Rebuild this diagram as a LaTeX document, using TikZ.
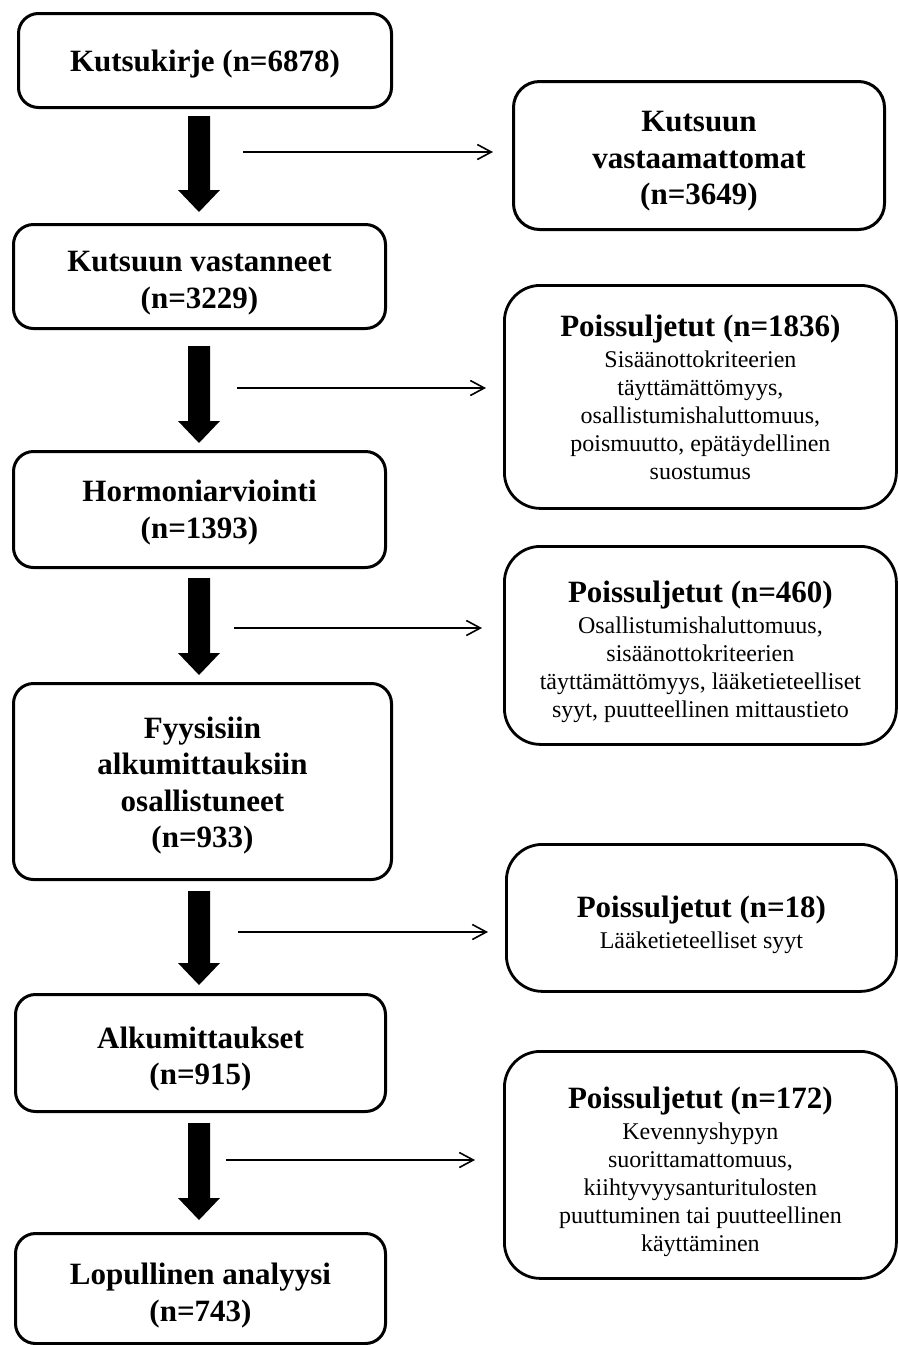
\documentclass[tikz,border=0pt]{standalone}
\usepackage{fontspec}
\setmainfont{Liberation Serif}
\usetikzlibrary{arrows.meta,calc}
\tikzset{
  leftbox/.style={draw,line width=3pt,rounded corners=20pt,anchor=north west,align=center,inner sep=0pt,
    font=\fontsize{31}{36.5}\selectfont\bfseries},
  sidebox/.style={draw,line width=2.8pt,rounded corners=36pt,anchor=north west,align=center,inner sep=0pt,
    font=\fontsize{24}{28}\selectfont},
  thinarrow/.style={line width=1.6pt,-{Straight Barb[length=14pt,width=15pt,line width=1.6pt]}},
}
% lowers the text of a box by #1 (pt)
\newcommand\dn[1]{\rule{0pt}{\dimexpr 22pt+#1pt*2\relax}}
\newcommand\hd[2]{{\fontsize{31}{34}\selectfont\bfseries\dn{#1}#2}\\[3pt]}
\newcommand\fatarrow[4]{%
  \fill let \p1=(#1.south -| ax), \p2=(#2.north -| ax) in
   (\x1-11pt,\y1-#3) -- (\x1+11pt,\y1-#3) -- (\x1+11pt,\y2+#4+22pt) -- (\x1+21pt,\y2+#4+22pt)
   -- (\x1,\y2+#4) -- (\x1-21pt,\y2+#4+22pt) -- (\x1-11pt,\y2+#4+22pt) -- cycle;}
\begin{document}
\begin{tikzpicture}[x=1pt,y=-1pt]
\useasboundingbox (0,0) rectangle (898,1345);
\coordinate (ax) at (199,0);
% left column
\node[leftbox,minimum width=373pt,minimum height=94pt] (n1) at (17,12) {\dn{3}Kutsukirje (n=6878)};
\node[leftbox,minimum width=372pt,minimum height=104pt] (n2) at (12,223) {\dn{6}Kutsuun vastanneet\\(n=3229)};
\node[leftbox,minimum width=372pt,minimum height=116pt] (n3) at (12,450) {\dn{3}Hormoniarviointi\\(n=1393)};
\node[leftbox,minimum width=378pt,minimum height=196pt] (n4) at (12,682) {\dn{4}Fyysisiin\\alkumittauksiin\\osallistuneet\\(n=933)};
\node[leftbox,minimum width=370pt,minimum height=117pt] (n5) at (14,993) {\dn{6}Alkumittaukset\\(n=915)};
\node[leftbox,minimum width=370pt,minimum height=110pt] (n6) at (14,1232) {\dn{7}Lopullinen analyysi\\(n=743)};
% right column
\node[leftbox,rounded corners=26pt,minimum width=371pt,minimum height=148pt] (r1) at (512,80) {\dn{5}Kutsuun\\vastaamattomat\\(n=3649)};
\node[sidebox,minimum width=392pt,minimum height=223pt] (r2) at (503,284) {\hd{0}{Poissuljetut (n=1836)}Sisäänottokriteerien\\täyttämättömyys,\\osallistumishaluttomuus,\\poismuutto, epätäydellinen\\suostumus};
\node[sidebox,minimum width=392pt,minimum height=198pt] (r3) at (503,545) {\hd{6}{Poissuljetut (n=460)}Osallistumishaluttomuus,\\sisäänottokriteerien\\täyttämättömyys, lääketieteelliset\\syyt, puutteellinen mittaustieto};
\node[sidebox,minimum width=390pt,minimum height=147pt] (r4) at (505,843) {\hd{7}{Poissuljetut (n=18)}Lääketieteelliset syyt};
\node[sidebox,minimum width=392pt,minimum height=227pt] (r5) at (503,1050) {\hd{7}{Poissuljetut (n=172)}Kevennyshypyn\\suorittamattomuus,\\kiihtyvyysanturitulosten\\puuttuminen tai puutteellinen\\käyttäminen};
% thick arrows
\fatarrow{n1}{n2}{7pt}{11pt}
\fatarrow{n2}{n3}{16pt}{7pt}
\fatarrow{n3}{n4}{9pt}{7pt}
\fatarrow{n4}{n5}{10pt}{8pt}
\fatarrow{n5}{n6}{10pt}{12pt}
% thin arrows
\coordinate (s1) at (243,152); \coordinate (t1) at (493,152);
\coordinate (s2) at (237,388); \coordinate (t2) at (486,388);
\coordinate (s3) at (234,628); \coordinate (t3) at (482,628);
\coordinate (s4) at (238,932); \coordinate (t4) at (488,932);
\coordinate (s5) at (226,1160); \coordinate (t5) at (475,1160);
\draw[thinarrow] (s1) -- (t1);
\draw[thinarrow] (s2) -- (t2);
\draw[thinarrow] (s3) -- (t3);
\draw[thinarrow] (s4) -- (t4);
\draw[thinarrow] (s5) -- (t5);
\end{tikzpicture}
\end{document}
